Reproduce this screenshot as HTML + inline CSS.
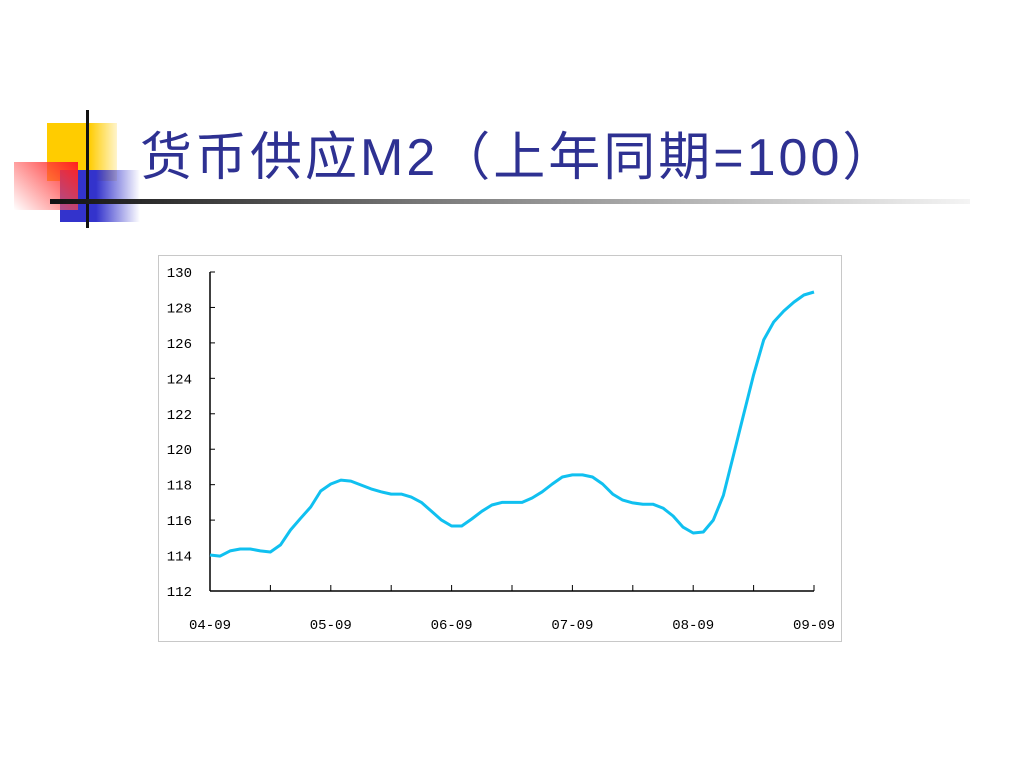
<!DOCTYPE html>
<html><head><meta charset="utf-8">
<style>
body{margin:0;width:1024px;height:768px;background:#fff;position:relative;overflow:hidden;font-family:"Liberation Sans","Noto Sans CJK SC",sans-serif}
.abs{position:absolute}
</style></head><body>
<div class="abs" style="left:47px;top:123px;width:70px;height:58px;background:linear-gradient(90deg,#ffcc00 60%,rgba(255,204,0,0.2))"></div>
<div class="abs" style="left:60px;top:170px;width:80px;height:52px;background:linear-gradient(90deg,#3333cc 45%,rgba(51,51,204,0))"></div>
<div class="abs" style="left:14px;top:162px;width:64px;height:48px;background:linear-gradient(45deg,rgba(255,255,255,0.3),#ff2020)"></div>
<div class="abs" style="left:86px;top:110px;width:3px;height:118px;background:#111"></div>
<div class="abs" style="left:50px;top:199px;width:920px;height:5px;background:linear-gradient(90deg,#111,#777 40%,rgba(200,200,200,0.2))"></div>
<div class="abs" style="left:140px;top:128px;font-size:52px;letter-spacing:3px;color:#2e3192;white-space:nowrap;line-height:60px">货币供应M2（上年同期=100）</div>
<svg class="abs" style="left:0;top:0" width="1024" height="768">
<rect x="158.5" y="255.5" width="683" height="386" fill="#fff" stroke="#c8c8c8"/>
<g id="axes"></g>
<path id="line" fill="none" stroke="#10c0f0" stroke-width="3" stroke-linejoin="round"/>
</svg>
<script>
const values=[114.03,113.97,114.26,114.37,114.37,114.26,114.2,114.6,115.44,116.1,116.74,117.64,118.04,118.26,118.2,117.98,117.76,117.6,117.47,117.47,117.3,117.0,116.5,116.0,115.67,115.67,116.06,116.5,116.85,117.0,117.0,117.0,117.25,117.6,118.04,118.43,118.55,118.55,118.43,118.04,117.47,117.13,116.97,116.9,116.9,116.68,116.23,115.6,115.27,115.33,116.0,117.4,119.67,121.93,124.2,126.17,127.18,127.8,128.3,128.7,128.87];
const xLabels=["04-09","05-09","06-09","07-09","08-09","09-09"];
const yTicks=[112,114,116,118,120,122,124,126,128,130];
const X0=210,X1=814,Y0=591,Y1=272;
const xs=i=>X0+(X1-X0)*i/(values.length-1);
const ys=v=>Y0-(v-112)/(130-112)*(Y0-Y1);
const ns="http://www.w3.org/2000/svg";
const g=document.getElementById('axes');
function mk(t,a){const e=document.createElementNS(ns,t);for(const k in a)e.setAttribute(k,a[k]);g.appendChild(e);return e;}
let e=mk('line',{x1:X0,y1:Y1,x2:X0,y2:Y0,stroke:'#000','stroke-width':1.5});


e=mk('line',{x1:X0,y1:Y0,x2:X1,y2:Y0,stroke:'#000','stroke-width':1.5});


yTicks.forEach(v=>{
 mk('line',{x1:X0,y1:ys(v),x2:X0+5,y2:ys(v),stroke:'#000'});
 const t=mk('text',{x:192,y:ys(v)+5,'text-anchor':'end','font-size':14,'font-family':'Liberation Mono, monospace',fill:'#000'});
 t.textContent=v;
 
 
});
for(let k=0;k<=10;k++){const x=X0+(X1-X0)*k/10;mk('line',{x1:x,y1:Y0,x2:x,y2:Y0-6,stroke:'#000'});}
xLabels.forEach((l,k)=>{
 const t=mk('text',{x:X0+(X1-X0)*k/5,y:629,'text-anchor':'middle','font-size':14,'font-family':'Liberation Mono, monospace',fill:'#000'});
 t.textContent=l;
 
 
});
let d='';
values.forEach((v,i)=>{d+=(i?'L':'M')+xs(i).toFixed(1)+' '+ys(v).toFixed(1);});
document.getElementById('line').setAttribute('d',d);
</script>
</body></html>
